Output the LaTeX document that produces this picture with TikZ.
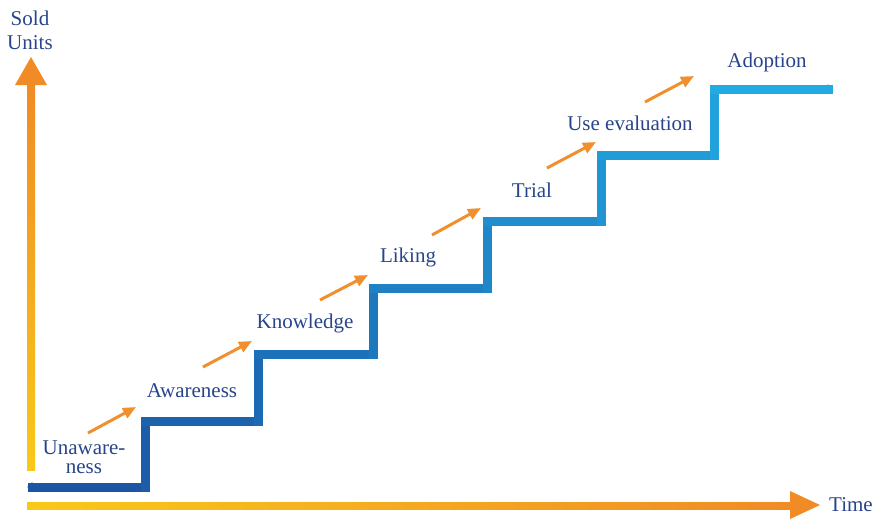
\documentclass[tikz,border=0pt]{standalone}
\usepackage{fontspec}
\setmainfont{Liberation Serif}
\usepackage{tikz}
\usetikzlibrary{arrows.meta}
\definecolor{stairlow}{HTML}{1B55A4}
\definecolor{stairhigh}{HTML}{22AAE2}
\definecolor{axislow}{HTML}{F8C91A}
\definecolor{axishigh}{HTML}{F08B26}
\definecolor{labelblue}{HTML}{28448A}
\definecolor{nudgeorange}{HTML}{EF8F2E}
\tikzset{
  stage/.style={text=labelblue,font=\fontsize{21}{19}\selectfont,align=center,inner sep=0pt},
  stair/.style={line width=9pt,line cap=rect},
  nudge/.style={nudgeorange,line width=3pt,-{Triangle[length=13pt,width=11pt]}}
}
\begin{document}
\begin{tikzpicture}[x=1pt,y=-1pt]
\useasboundingbox (0,0) rectangle (877,520);
% axes
\shade[bottom color=axislow,top color=axishigh] (27,470) rectangle (35,84);
\fill[axishigh] (15,85) -- (31,57) -- (47,85) -- cycle;
\shade[left color=axislow,right color=axishigh] (27,502) rectangle (792,509);
\fill[axishigh] (790,491) -- (820,505) -- (790,519) -- cycle;
\node[stage,font=\fontsize{21}{24}\selectfont] (sold) at (30,30) {Sold\\Units};
\node[stage] (time) at (851,505) {Time};
% the stairs
\foreach \xa/\ya/\xb/\yb [count=\i] in {32/487/145/487, 145/487/145/421, 145/421/258/421,
    258/421/258/354, 258/354/373/354, 373/354/373/288, 373/288/487/288, 487/288/487/221,
    487/221/601/221, 601/221/601/155, 601/155/714/155, 714/155/714/89, 714/89/828/89}{
  \pgfmathtruncatemacro\p{(\i-1)*100/12}
  \draw[stair,stairhigh!\p!stairlow] (\xa,\ya) -- (\xb,\yb);
}
\fill[stairlow] (32,487) circle (4.5pt);
\fill[stairhigh] (828,89) circle (4.5pt);
% stages
\node[stage] (unaware) at (84,457) {Unaware-\\ness};
\node[stage] (aware) at (192,391) {Awareness};
\node[stage] (know) at (305,323) {Knowledge};
\node[stage] (liking) at (408,257) {Liking};
\node[stage] (trial) at (532,190) {Trial};
\node[stage] (useeval) at (630,123) {Use evaluation};
\node[stage] (adopt) at (767,62) {Adoption};
% arrows between the stages
\foreach \xa/\ya/\xb/\yb [count=\i] in {88/433/136/407, 203/367/252/341, 320/300/368/275,
    432/235/481/208, 547/168/596/142, 645/102/694/76}{
  \coordinate (from\i) at (\xa,\ya);
  \coordinate (to\i) at (\xb,\yb);
  \draw[nudge] (from\i) -- (to\i);
}
\end{tikzpicture}
\end{document}
